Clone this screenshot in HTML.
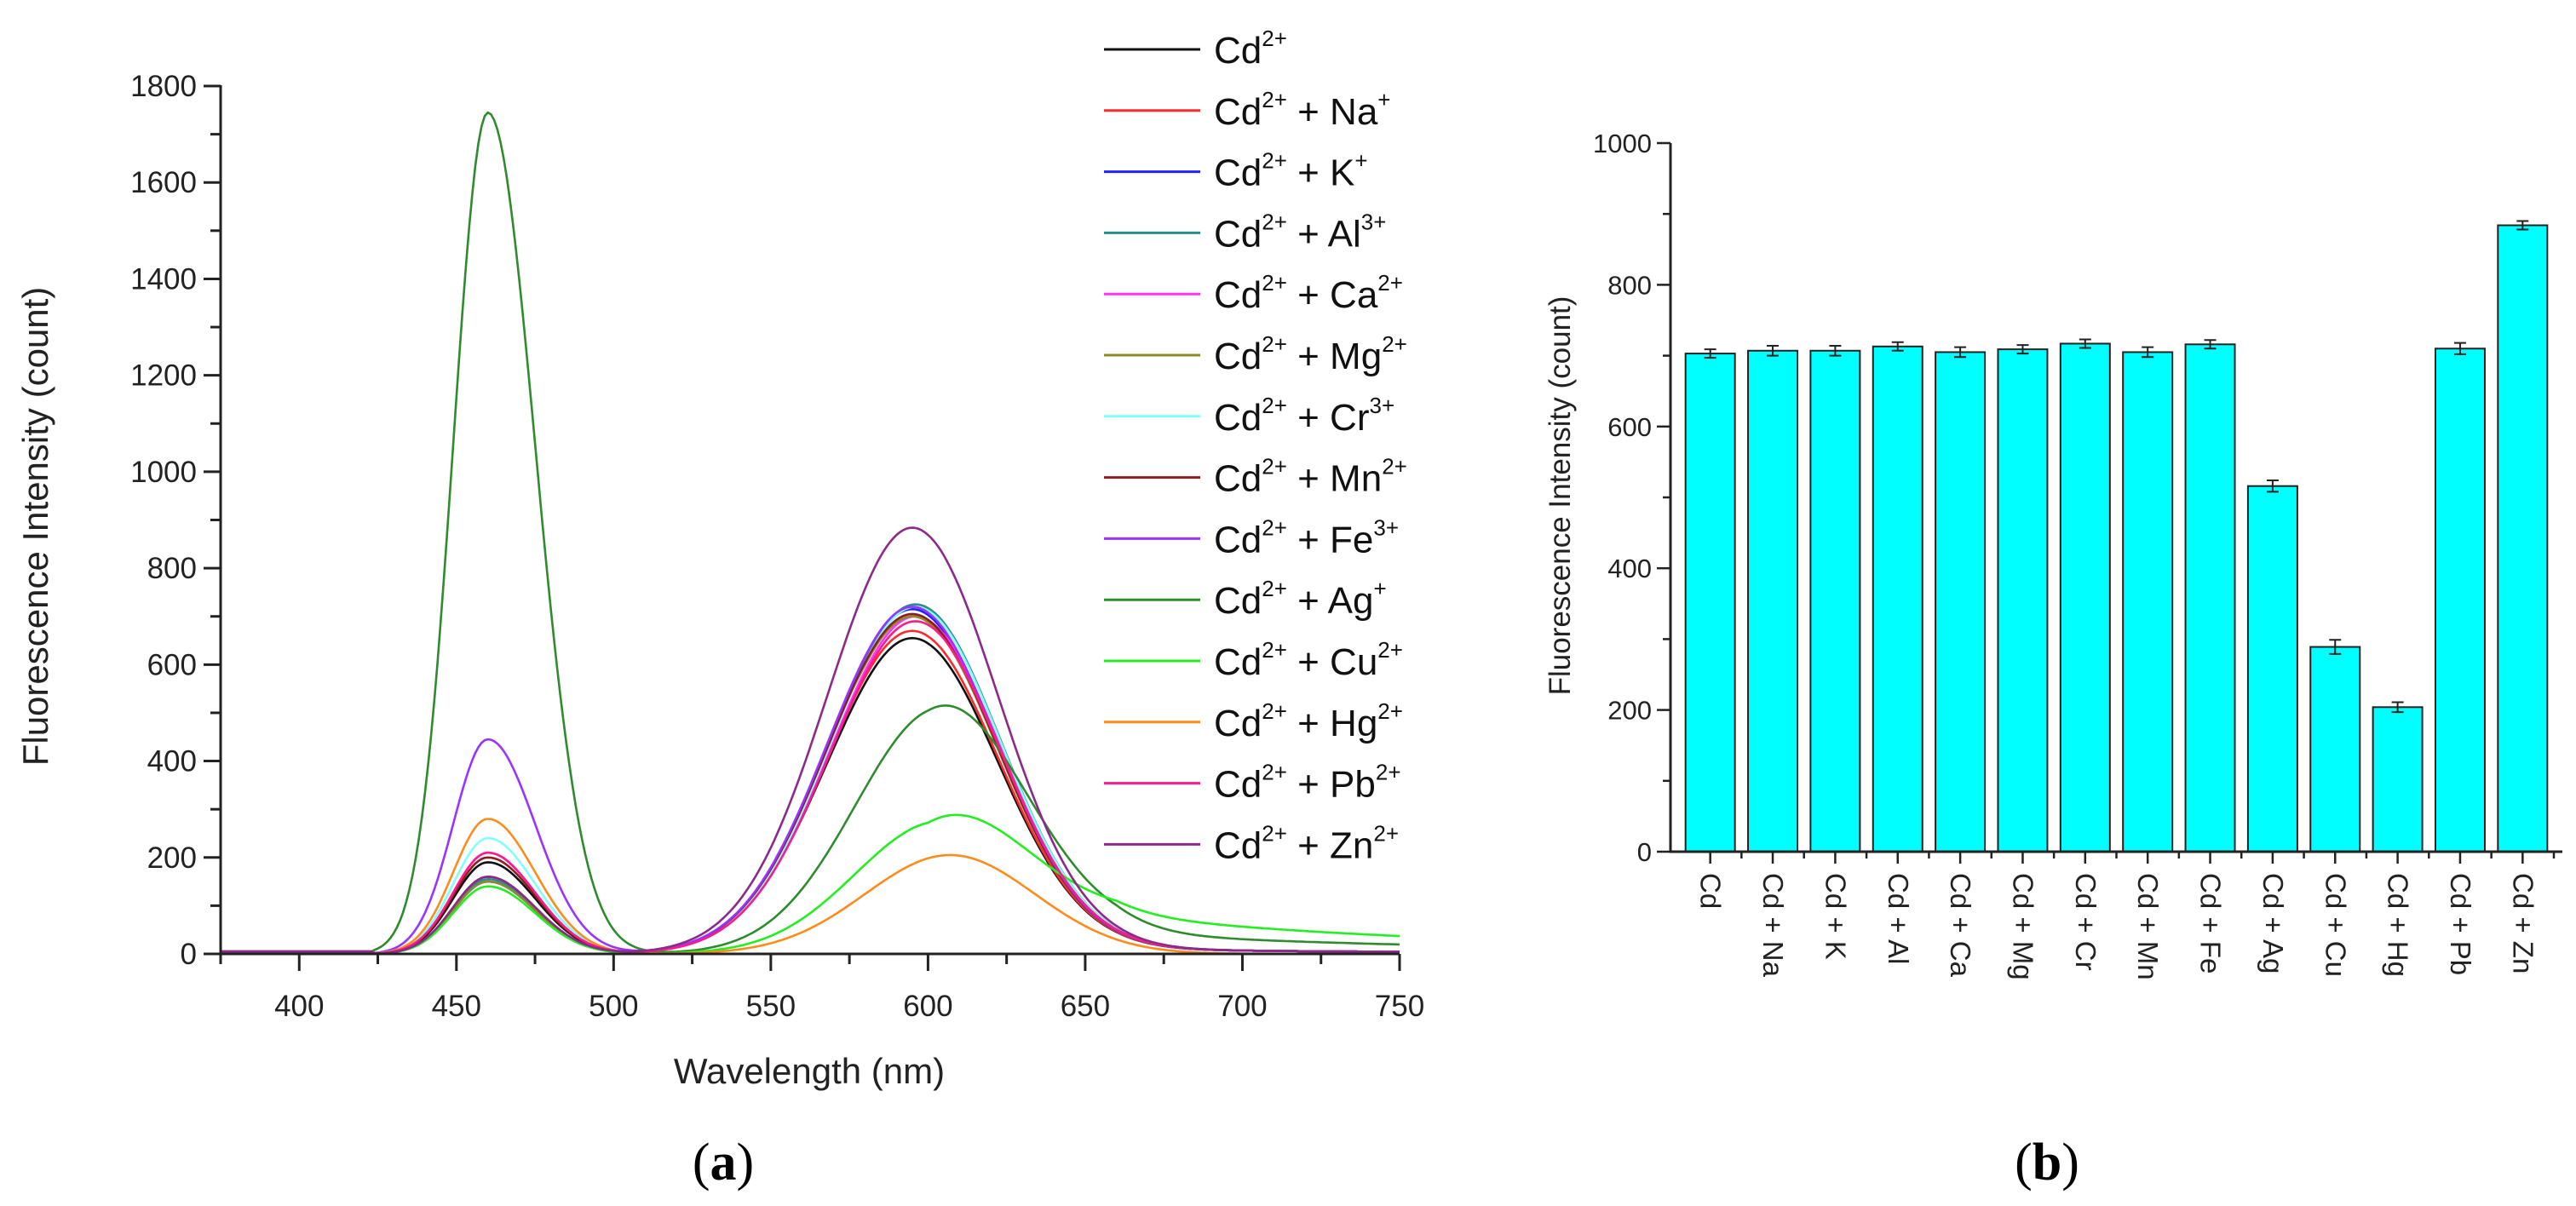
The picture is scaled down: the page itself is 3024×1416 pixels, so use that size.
<!DOCTYPE html>
<html><head><meta charset="utf-8"><style>
html,body{margin:0;padding:0;background:#fff;}
svg{display:block;font-family:"Liberation Sans",Arial,sans-serif;}
</style></head><body>
<svg id="fig" width="3024" height="1416" viewBox="0 0 3024 1416" xmlns="http://www.w3.org/2000/svg">
<g id="chartA"></g>
<g id="legendA"></g>
<g id="chartB"></g>
<text x="849" y="1385" text-anchor="middle" font-family="Liberation Serif,serif" font-size="62">(<tspan font-weight="bold">a</tspan>)</text>
<text x="2403" y="1385" text-anchor="middle" font-family="Liberation Serif,serif" font-size="62">(<tspan font-weight="bold">b</tspan>)</text>
</svg>
<script>
// ---- Panel (a) data ----
const seriesIons = ["", "Na", "K", "Al", "Ca", "Mg", "Cr", "Mn", "Fe", "Ag", "Cu", "Hg", "Pb", "Zn"];
const seriesCharges = ["", "+", "+", "3+", "2+", "2+", "3+", "2+", "3+", "+", "2+", "2+", "2+", "2+"];
const seriesColors = ["#111111","#ff2a2a","#2222ff","#2a8c8c","#ff33ff","#8a8a2a","#80ffff","#8b1f1f","#9933ff","#2e8b2e","#22ee22","#ff8c1a","#ff1a8c","#8b2a8b"];
const peak1Heights = [190,160,150,155,210,150,240,200,445,1745,140,280,210,160];
const peak2Heights = [655,670,715,725,700,700,720,705,720,510,275,205,690,884];
const peak2Centers = [595,595,595,596,596,595,596,595,595,604,604,607,596,595];
const tailHeights = [10,10,10,10,10,10,10,10,10,45,85,0,10,10];
const xTicks = [400,450,500,550,600,650,700,750];
const yTicksA = [0,200,400,600,800,1000,1200,1400,1600,1800];
// ---- Panel (b) data ----
const barCategories = ["Cd","Cd + Na","Cd + K","Cd + Al","Cd + Ca","Cd + Mg","Cd + Cr","Cd + Mn","Cd + Fe","Cd + Ag","Cd + Cu","Cd + Hg","Cd + Pb","Cd + Zn"];
const barValues = [703,707,707,713,705,709,717,705,716,516,289,204,710,884];
const barErrors = [6,7,7,6,7,6,6,7,6,8,10,7,8,6];
const yTicksB = [0,200,400,600,800,1000];

const NS="http://www.w3.org/2000/svg";
function mk(parent,tag,attrs){const e=document.createElementNS(NS,tag);for(const k in attrs)e.setAttribute(k,attrs[k]);parent.appendChild(e);return e;}

const ax0=259, ax1=1643, ay0=1120, ay1=101;
const xA=w=>ax0+(w-375)*(ax1-ax0)/375;
const yA=v=>ay0-v*(ay0-ay1)/1800;
const A=document.getElementById('chartA');

function intensity(i,w){
  let v=0;
  if(w>=424){
    const s1 = w<460?11:15;
    v+=peak1Heights[i]*Math.exp(-Math.pow(w-460,2)/(2*s1*s1));
    const s2 = 27;
    v+=peak2Heights[i]*Math.exp(-Math.pow(w-peak2Centers[i],2)/(2*s2*s2));
    if(w>600) v+=tailHeights[i]*Math.min(1,(w-600)/60)*Math.exp(-(w-650)/120);
  } else v=5;
  return v;
}
for(let i=0;i<seriesColors.length;i++){
  let d="";
  for(let w=375;w<=750;w+=1){d+=(w===375?"M":"L")+xA(w).toFixed(1)+","+yA(intensity(i,w)).toFixed(1);}
  const p=mk(A,'path',{d:d,fill:"none",stroke:seriesColors[i],"stroke-width":2.6});
  
  
}
const axA=mk(A,'path',{d:`M${ax0},${ay1-1}V${ay0}H${ax1}`,fill:"none",stroke:"#222","stroke-width":3});


for(let v=0;v<=1800;v+=100){
  const major=v%200===0;
  mk(A,'line',{x1:ax0-(major?20:12),x2:ax0,y1:yA(v),y2:yA(v),stroke:"#222","stroke-width":3});
}
yTicksA.forEach(v=>{
  const t=mk(A,'text',{x:ax0-28,y:yA(v)+12,"text-anchor":"end","font-size":35,fill:"#222"});
  t.textContent=v;
  
  
});
for(let w=375;w<=750;w+=25){
  const major=w%50===0;
  mk(A,'line',{x1:xA(w),x2:xA(w),y1:ay0,y2:ay0+(major?20:12),stroke:"#222","stroke-width":3});
}
xTicks.forEach(w=>{
  const t=mk(A,'text',{x:xA(w),y:1193,"text-anchor":"middle","font-size":35,fill:"#222"});
  t.textContent=w;
  
  
});
let tt=mk(A,'text',{x:950,y:1272,"text-anchor":"middle","font-size":42,fill:"#222"});
tt.textContent="Wavelength (nm)";


tt=mk(A,'text',{x:0,y:0,"text-anchor":"middle","font-size":42,fill:"#222",transform:"translate(56,618) rotate(-90)"});
tt.textContent="Fluorescence Intensity (count)";



const L=document.getElementById('legendA');
for(let i=0;i<seriesColors.length;i++){
  const y=58+i*71.8;
  const g=mk(L,'g',{});
  
  
  mk(g,'line',{x1:1296,x2:1409,y1:y,y2:y,stroke:seriesColors[i],"stroke-width":3});
  const t=mk(g,'text',{x:1425,y:y+16,"font-size":44,fill:"#111"});
  let html='Cd<tspan dy="-20" font-size="26">2+</tspan>';
  if(seriesIons[i]) html+='<tspan dy="20"> + '+seriesIons[i]+'</tspan><tspan dy="-20" font-size="26">'+seriesCharges[i]+'</tspan>';
  t.innerHTML=html;
}

const B=document.getElementById('chartB');
const bx0=1961, bx1=3008, by0=1000, by1=168;
const yB=v=>by0-v*(by0-by1)/1000;
const bandStart=1971, band=(2998-1971)/barCategories.length;
const xB=i=>bandStart+(i+0.5)*band;
const bw=58;
barCategories.forEach((c,i)=>{
  const r=mk(B,'rect',{x:xB(i)-bw/2,y:yB(barValues[i]),width:bw,height:by0-yB(barValues[i]),fill:"#00ffff",stroke:"#222","stroke-width":2});
  
  
  const e1=yB(barValues[i]+barErrors[i]), e2=yB(barValues[i]-barErrors[i]);
  const eb=mk(B,'path',{d:`M${xB(i)},${e1}V${e2}M${xB(i)-7},${e1}H${xB(i)+7}M${xB(i)-7},${e2}H${xB(i)+7}`,stroke:"#222","stroke-width":2,fill:"none"});
  
  
  const t=mk(B,'text',{x:0,y:0,"font-size":33,fill:"#222",transform:`translate(${xB(i)-11},${by0+25}) rotate(90)`});
  t.textContent=c;
  
  
  mk(B,'line',{x1:xB(i),x2:xB(i),y1:by0,y2:by0+14,stroke:"#222","stroke-width":2.5});
  mk(B,'line',{x1:xB(i)+band/2,x2:xB(i)+band/2,y1:by0,y2:by0+8,stroke:"#222","stroke-width":2.5});
});
const axB=mk(B,'path',{d:`M${bx0},${by1}V${by0}H${bx1}`,fill:"none",stroke:"#222","stroke-width":3});


for(let v=0;v<=1000;v+=100){
  const major=v%200===0;
  mk(B,'line',{x1:bx0-(major?16:9),x2:bx0,y1:yB(v),y2:yB(v),stroke:"#222","stroke-width":2.5});
}
yTicksB.forEach(v=>{
  const t=mk(B,'text',{x:bx0-22,y:yB(v)+11,"text-anchor":"end","font-size":31,fill:"#222"});
  t.textContent=v;
  
  
});
tt=mk(B,'text',{x:0,y:0,"text-anchor":"middle","font-size":35,fill:"#222",transform:"translate(1843,582) rotate(-90)"});
tt.textContent="Fluorescence Intensity (count)";


</script>
</body></html>
